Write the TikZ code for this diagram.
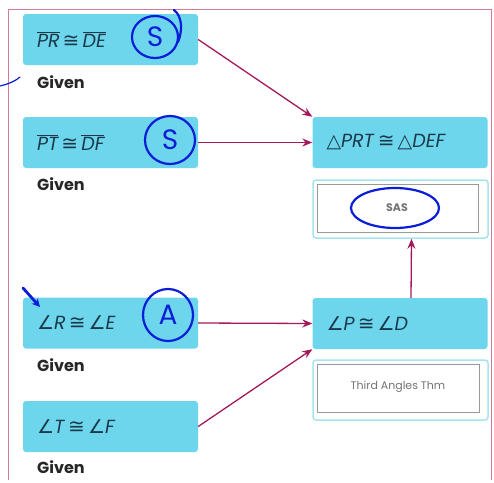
\documentclass[tikz,border=0pt]{standalone}
\usepackage{fontspec}
\setmainfont{Poppins}
\newfontfamily\symfont{DejaVu Sans}
\usetikzlibrary{arrows.meta}
\definecolor{boxc}{HTML}{6DD5EC}
\definecolor{txtc}{HTML}{1A3A4A}
\definecolor{arrc}{HTML}{A3195B}
\definecolor{framec}{HTML}{D47A95}
\definecolor{reasonc}{HTML}{A6E4EF}
\definecolor{innerc}{HTML}{9A9A9A}
\definecolor{penc}{HTML}{0A1ED8}
\newcommand\cg{{\symfont\fontsize{20}{22}\selectfont ≅}}
\newcommand\ang{{\symfont ∠}}
\newcommand\tri{{\symfont △}}
\newcommand\seg[1]{$\overline{\hbox{\itshape #1}}$}
\tikzset{
  stmt/.style={fill=boxc, rounded corners=3pt, minimum width=175pt, minimum height=51pt,
    text width=147pt, align=left, inner xsep=14pt, inner ysep=0pt,
    font=\fontsize{19}{22}\selectfont, text=txtc},
  given/.style={anchor=west, inner sep=0pt, font=\fontsize{16}{18}\selectfont\bfseries, text=black!85},
  outerbox/.style={draw=reasonc, line width=1.5pt, rounded corners=3pt, minimum width=175pt},
  innerbox/.style={draw=innerc, line width=1pt, fill=white, inner sep=0pt},
  reason/.style={font=\fontsize{11}{12}\selectfont, text=black!55, inner sep=0pt},
  flow/.style={draw=arrc, line width=1.3pt, -{Stealth[length=10pt,width=8pt]}},
  pen/.style={draw=penc, line width=2.2pt, line cap=round},
  penletter/.style={text=penc, font=\fontsize{28}{30}\selectfont, inner sep=0pt}
}
\begin{document}
\begin{tikzpicture}[x=1pt, y=-1pt]
\useasboundingbox (0,0) rectangle (494,482);
\fill[white] (0,0) rectangle (494,482);
% frame
\draw[framec, line width=1pt] (8,480) -- (8,9) -- (491,9) -- (491,480);

% reason boxes
\node[outerbox, minimum height=58pt] (sasout) at (400.5,209) {};
\node[innerbox, minimum width=161pt, minimum height=48pt] (sasin) at (397.5,208) {};
\node[reason, font=\fontsize{11}{12}\selectfont\bfseries] (sas) at (397,208) {SAS};
\node[outerbox, minimum height=60pt] (thout) at (400.5,390) {};
\node[innerbox, minimum width=162pt, minimum height=48pt] (thin) at (398,388) {};
\node[reason] (thm) at (398,387) {Third Angles Thm};

% statements
\node[stmt] (pr) at (110.5,39.5) {\seg{PR}\,\cg\,\seg{DE}};
\node[stmt] (pt) at (110.5,142.5) {\seg{PT}\,\cg\,\seg{DF}};
\node[stmt] (re) at (110.5,323) {\ang\textit{R}\,\cg\,\ang\textit{E}};
\node[stmt] (tf) at (110.5,426.5) {\ang\textit{T}\,\cg\,\ang\textit{F}};
\node[stmt] (prt) at (400,142.5) {\tri\textit{PRT}\,\cg\,\tri\textit{DEF}};
\node[stmt] (pd) at (400,323.5) {\ang\textit{P}\,\cg\,\ang\textit{D}};

\node[given] (g1) at (37,82) {Given};
\node[given] (g2) at (37,184) {Given};
\node[given] (g3) at (37,365) {Given};
\node[given] (g4) at (37,467) {Given};

% connectors
\draw[flow] (pr.east) -- (prt.north west);
\draw[flow] (pt.east) -- (prt.west);
\draw[flow] (re.east) -- (pd.west);
\draw[flow] (tf.east) -- (pd.south west);
\coordinate (pdtop) at ([xshift=11pt]pd.north);
\coordinate (sasbot) at ([xshift=11pt]sasout.south);
\draw[flow] (pdtop) -- (sasbot);

% handwritten annotations
\draw[pen] (155,37) ellipse (23pt and 21pt);
\node[penletter] (s1) at (155,37) {S};
\draw[pen] (174,10) .. controls (182,16) and (183,30) .. (178,42);
\draw[pen] (170,140) ellipse (25pt and 24pt);
\node[penletter] (s2) at (170,140) {S};
\draw[pen] (168,315) ellipse (25pt and 26pt);
\node[penletter] (a) at (168,315) {A};
\draw[pen] (395,208) ellipse (44pt and 20pt);
\draw[pen, line width=2.8pt, -{Stealth[length=8pt,width=8pt]}] (23,288) -- (40,307);
\draw[pen, line width=1.2pt] (0,86) .. controls (8,84) and (14,82) .. (20,77);
\end{tikzpicture}
\end{document}
